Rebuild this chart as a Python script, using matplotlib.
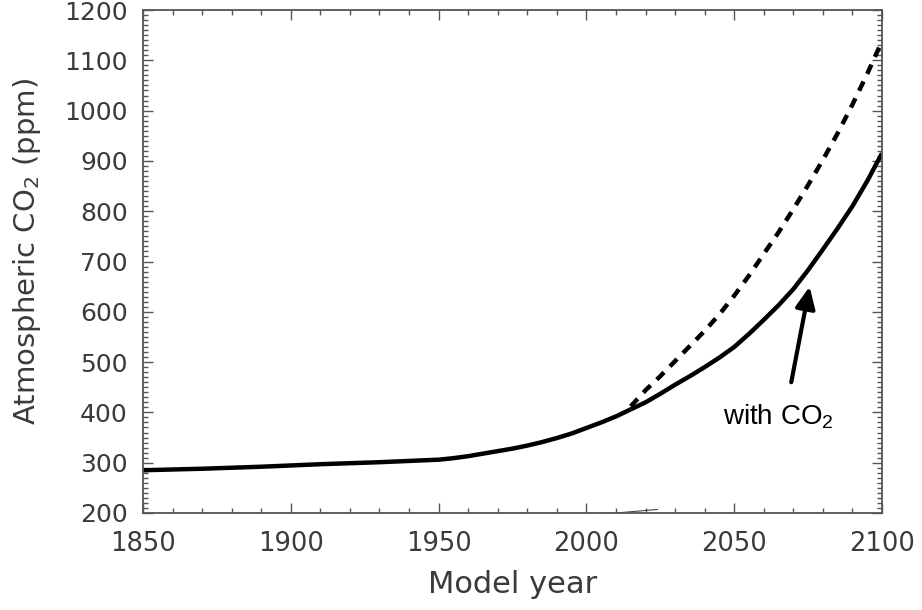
import matplotlib
matplotlib.use("Agg")
import matplotlib.pyplot as plt
from matplotlib.ticker import MultipleLocator

# Historical atmospheric CO2 (ppm)
hist_years = [1850, 1870, 1890, 1910, 1930, 1950, 1955, 1960, 1965, 1970, 1975,
              1980, 1985, 1990, 1995, 2000, 2005, 2010, 2015]
hist_co2 = [285, 288, 292, 297, 301, 306, 309, 313, 318, 323, 328,
            334, 341, 349, 358, 369, 380, 392, 406]

# Projection years (5-year steps)
proj_years = [2015, 2020, 2025, 2030, 2035, 2040, 2045, 2050, 2055,
              2060, 2065, 2070, 2075, 2080, 2085, 2090, 2095, 2100]
# With CO2 feedback (solid)
proj_with = [406, 420, 437, 455, 472, 490, 509, 530, 556,
             584, 613, 645, 683, 724, 766, 810, 860, 915]
# Without feedback (dashed)
proj_without = [412, 444, 472, 502, 532, 562, 595, 632, 672,
                715, 758, 804, 852, 902, 955, 1012, 1073, 1138]

# Faint trace near the bottom of the frame
trace_years = [2005, 2012, 2020, 2024]
trace_vals = [199, 201, 205, 207]

x_ticks = [1850, 1900, 1950, 2000, 2050, 2100]
y_ticks = [200, 300, 400, 500, 600, 700, 800, 900, 1000, 1100, 1200]

plt.rcParams['mathtext.default'] = 'regular'

fig = plt.figure(figsize=(9.22, 6.10), dpi=100)
ax = fig.add_axes([143/922, 1 - 513/610, (882-143)/922, (513-10)/610])

txt_col = '#3a3a3a'
ax_col = '#555555'

ax.plot(hist_years, hist_co2, color='black', lw=3.2, solid_capstyle='butt',
        solid_joinstyle='round')
ax.plot(proj_years, proj_with, color='black', lw=3.2, solid_capstyle='butt',
        solid_joinstyle='round')
ax.plot(proj_years, proj_without, color='black', lw=3.2, dashes=(2.3, 1.9))
ax.plot(trace_years, trace_vals, color='#444444', lw=0.8)

ax.set_xlim(1850, 2100)
ax.set_ylim(200, 1200)
ax.set_xticks(x_ticks)
ax.set_yticks(y_ticks)
ax.xaxis.set_minor_locator(MultipleLocator(10))
ax.yaxis.set_minor_locator(MultipleLocator(10))

ax.tick_params(axis='both', which='both', direction='in', top=True, right=True,
               color=ax_col, width=1.0)
ax.tick_params(axis='both', which='major', length=7)
ax.tick_params(axis='both', which='minor', length=3.5)
ax.tick_params(axis='x', which='major', labelsize=18.5, pad=13, labelcolor=txt_col)
ax.tick_params(axis='y', which='major', labelsize=18, pad=11, labelcolor=txt_col)

for s in ax.spines.values():
    s.set_color(ax_col)
    s.set_linewidth(1.3)

ax.set_xlabel('Model year', fontsize=22, color=txt_col, labelpad=9)
ax.set_ylabel('Atmospheric CO$_2$ (ppm)', fontsize=21, color=txt_col)
ax.yaxis.set_label_coords(-0.135, 0.52)

ax.annotate('', xy=(2075.5, 650), xytext=(2069.3, 460),
            arrowprops=dict(arrowstyle='-|>,head_length=0.65,head_width=0.3',
                            lw=3, color='black', mutation_scale=20,
                            shrinkA=0, shrinkB=0))
ax.text(2046.2, 376, 'with CO$_2$', fontsize=20, family='Liberation Sans',
        color='black', ha='left', va='baseline')

fig.savefig('out.png', dpi=100)
